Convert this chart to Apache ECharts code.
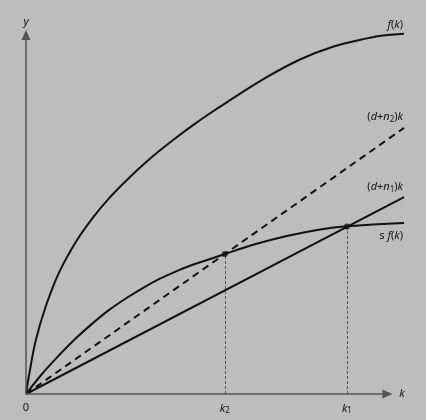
<!DOCTYPE html>
<html>
<head>
<meta charset="utf-8">
<style>
  html, body { margin: 0; padding: 0; background: #bdbdbd; }
  #chart { width: 426px; height: 420px; }
</style>
<script src="https://cdn.jsdelivr.net/npm/echarts@6/dist/echarts.min.js"></script>
</head>
<body>
<div id="chart"></div>
<script>
  // 曲线取样点 [k, y]，坐标范围 0-100
  var fk = [[0, 0], [0.9, 5.7], [2.6, 14.8], [5.3, 24.3], [8.8, 33.5], [13.5, 42.3], [17.6, 48.3],
    [22.0, 53.8], [26.5, 58.6], [30.9, 62.9], [35.3, 66.8], [39.7, 70.4], [44.1, 73.8],
    [48.5, 77.0], [52.9, 80.0], [63.8, 87.1], [72.5, 91.9], [81.2, 95.4], [90.2, 97.7],
    [95.5, 98.6], [100, 99.0]];
  var sfk = [[0, 0], [4.4, 5.7], [8.8, 10.7], [13.2, 15.3], [17.6, 19.4], [22.0, 23.1],
    [26.5, 26.3], [30.9, 29.1], [35.3, 31.6], [39.7, 33.7], [44.1, 35.5], [48.5, 37.0],
    [52.6, 38.45], [60.1, 41.0], [69.0, 43.4], [77.8, 45.2], [84.9, 46.1], [100, 47.0]];
  var lineN1 = [[0, 0], [100, 54.1]];   // (d+n1)k
  var lineN2 = [[0, 0], [100, 73.1]];   // (d+n2)k
  var steady = [[52.6, 38.45], [84.9, 46.0]];  // k2, k1 交点
  var tickK = [0, 52.6, 84.9];
  var tickText = ['0', '{i|k}{s|2}', '{i|k}{s|1}'];
  var axisEnd = [95.6, 98.6];

  var FONT = 'Noto Sans';
  var rich = {
    i: { fontStyle: 'italic', fontFamily: FONT, fontSize: 11, color: '#111' },
    s: { fontFamily: FONT, fontSize: 8, color: '#111', padding: [5, 0, 0, 0] }
  };

  function endTag(data, text, off) {
    return {
      symbol: 'circle',
      symbolSize: 0,
      silent: true,
      data: [{ coord: data[data.length - 1] }],
      label: {
        show: true,
        position: off,
        align: 'right',
        verticalAlign: 'middle',
        fontFamily: FONT,
        fontSize: 11,
        color: '#111',
        formatter: text,
        rich: rich
      }
    };
  }

  var curve = { color: '#111', width: 2 };

  var myChart = echarts.init(document.getElementById('chart'));
  var option = {
    backgroundColor: '#bdbdbd',
    animation: false,
    grid: { left: 26, right: 22, top: 30, bottom: 26 },
    xAxis: {
      type: 'value',
      min: 0,
      max: 100,
      axisLine: { show: false },
      axisTick: { show: false },
      splitLine: { show: false },
      axisLabel: {
        customValues: tickK,
        margin: 8,
        fontFamily: FONT,
        fontSize: 11,
        color: '#111',
        formatter: function (v) {
          var i = tickK.indexOf(v);
          return i >= 0 ? tickText[i] : '';
        },
        rich: rich
      }
    },
    yAxis: {
      type: 'value',
      min: 0,
      max: 100,
      name: '{i|y}',
      nameGap: 3,
      nameTextStyle: { rich: rich },
      axisLine: { show: false },
      axisTick: { show: false },
      splitLine: { show: false },
      axisLabel: { show: false }
    },
    series: [
      {
        // 坐标轴箭头
        type: 'line',
        data: [[0, 0]],
        symbol: 'none',
        silent: true,
        markLine: {
          symbol: ['none', 'triangle'],
          symbolSize: [9, 10],
          silent: true,
          label: { show: false },
          lineStyle: { color: '#555', width: 1.5, type: 'solid' },
          data: [
            [{ coord: [0, 0] }, { coord: [axisEnd[0], 0] }],
            [{ coord: [0, 0] }, { coord: [0, axisEnd[1]] }]
          ]
        },
        markPoint: {
          symbol: 'circle',
          symbolSize: 0,
          silent: true,
          data: [{ coord: [axisEnd[0], 0] }],
          label: {
            show: true,
            position: [12, 0],
            align: 'left',
            verticalAlign: 'middle',
            formatter: '{i|k}',
            rich: rich
          }
        }
      },
      {
        // 竖向虚线与交点
        type: 'scatter',
        data: steady,
        symbol: 'circle',
        symbolSize: 6,
        itemStyle: { color: '#111' },
        z: 5,
        markLine: {
          symbol: 'none',
          silent: true,
          label: { show: false },
          lineStyle: { color: '#555', width: 1, type: [3, 2] },
          data: steady.map(function (p) {
            return [{ coord: [p[0], 0] }, { coord: [p[0], p[1]] }];
          })
        }
      },
      {
        name: 'f(k)',
        type: 'line',
        data: fk,
        smooth: 0.4,
        symbol: 'none',
        lineStyle: curve,
        markPoint: endTag(fk, '{i|f}({i|k})', [-1, -9])
      },
      {
        name: 's f(k)',
        type: 'line',
        data: sfk,
        smooth: 0.4,
        symbol: 'none',
        lineStyle: curve,
        markPoint: endTag(sfk, 's {i|f}({i|k})', [-1, 13])
      },
      {
        name: '(d+n1)k',
        type: 'line',
        data: lineN1,
        symbol: 'none',
        lineStyle: curve,
        markPoint: endTag(lineN1, '({i|d}+{i|n}{s|1}){i|k}', [-1, -10])
      },
      {
        name: '(d+n2)k',
        type: 'line',
        data: lineN2,
        symbol: 'none',
        lineStyle: { color: '#111', width: 2, type: [7, 5] },
        markPoint: endTag(lineN2, '({i|d}+{i|n}{s|2}){i|k}', [-1, -11])
      }
    ]
  };
  // 绘制图表
  myChart.setOption(option);
</script>
</body>
</html>
